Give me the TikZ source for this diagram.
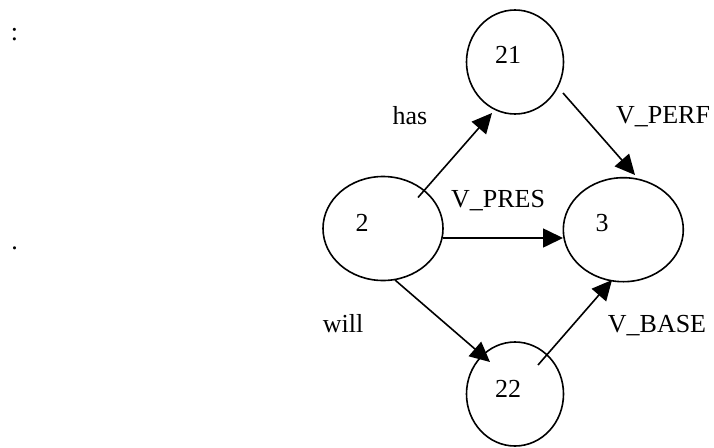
\documentclass[tikz,border=0pt]{standalone}
\usepackage{fontspec}
\setmainfont{Liberation Serif}
\usetikzlibrary{arrows.meta,shapes.geometric,calc}
\begin{document}
\begin{tikzpicture}[x=1pt,y=-1pt,
  state/.style={draw,ellipse,line width=1.6pt,inner sep=0pt},
  small/.style={state,minimum width=97pt,minimum height=104pt},
  wide/.style={state,minimum width=120pt,minimum height=104pt},
  txt/.style={inner sep=0pt,anchor=base,font=\fontsize{26}{30}\selectfont},
  edge/.style={line width=1.6pt,-{Triangle[length=20pt,width=19pt]}}]
\useasboundingbox (0,0) rectangle (714,447);

% states
\node[wide]  (n2)  at (383,228.5) {};
\node[small] (n21) at (515,62)    {};
\node[wide]  (n3)  at (623.3,229.7) {};
\node[small] (n22) at (515,394)   {};

% state numbers
\node[txt] (t2)  at (362,231) {2};
\node[txt] (t21) at (508,63)  {21};
\node[txt] (t3)  at (602,231) {3};
\node[txt] (t22) at (508,397) {22};

% transitions
\draw[edge] ($(n2)+(35,-31)$)   -- ($(n21)+(-23,51)$);
\draw[edge] ($(n21)+(48,31)$)   -- ($(n3)+(11.7,-54.7)$);
\draw[edge] ($(n2)+(60,9.5)$)   -- ($(n3)+(-60.3,8.3)$);
\draw[edge] ($(n2)+(12,51.5)$)  -- ($(n22)+(-25,-32)$);
\draw[edge] ($(n22)+(23,-29)$)  -- ($(n3)+(-11.3,50.3)$);

% transition labels
\node[txt] (lhas)   at (410,124) {has};
\node[txt] (lperf)  at (663,123) {V\_PERF};
\node[txt] (lpres)  at (498,207) {V\_PRES};
\node[txt] (lwill)  at (343,332) {will};
\node[txt] (lbase)  at (657,332) {V\_BASE};

% margin marks
\node[txt] (colon)  at (14.5,40) {:};
\node[txt] (period) at (14.5,249) {.};
\end{tikzpicture}
\end{document}
